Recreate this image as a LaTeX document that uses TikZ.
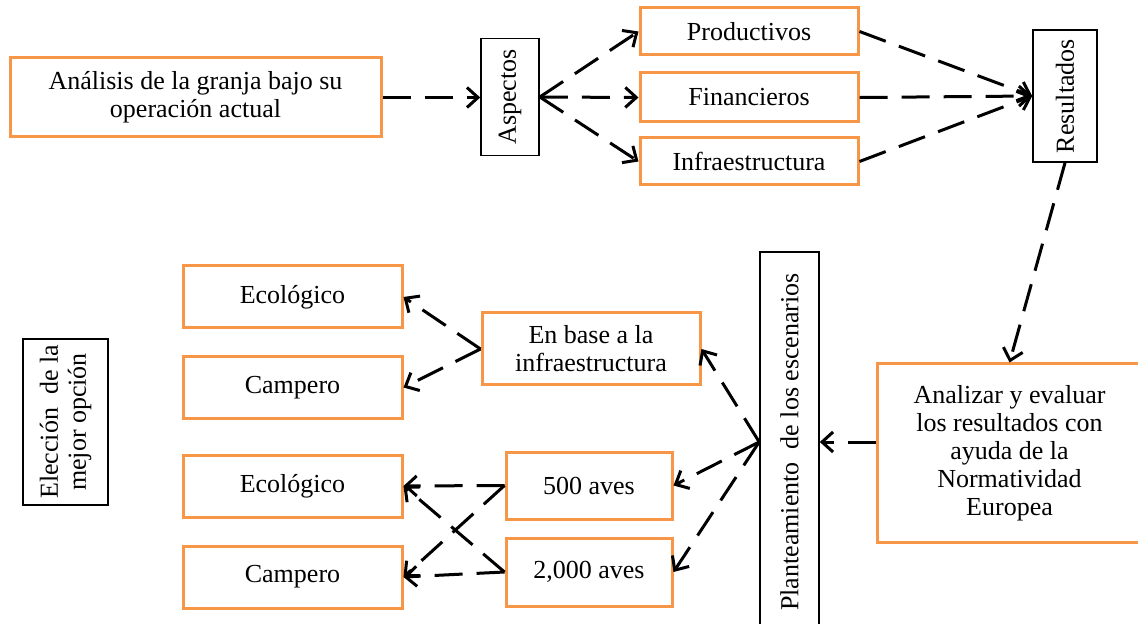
\documentclass[tikz,border=0pt]{standalone}
\usepackage{fontspec}
\setmainfont{Liberation Serif}
\usepackage{xcolor}
\usepackage{tikz}
\usetikzlibrary{arrows.meta}
\usetikzlibrary{positioning}
\definecolor{naranja}{RGB}{247,150,70}
\tikzset{
  caja/.style = {draw=naranja, line width=1.5pt, align=center, inner sep=0pt,
    text centered, font=\fontsize{13}{14}\selectfont},% caja naranja
  barra/.style = {draw=black, line width=0.8pt, rotate=90, align=center,
    inner sep=0pt, font=\fontsize{13}{14}\selectfont},% caja negra vertical
  flecha/.style = {line width=1.5pt, dash pattern=on 14pt off 7pt}% conector
}

\begin{document}
\begin{tikzpicture}[->,>={Straight Barb[length=5.5pt,width=10pt]},x=0.5pt,y=-0.5pt]
\useasboundingbox (0,0) rectangle (1138,624);

% fila de arriba
\node [caja, minimum width=185.5pt, minimum height=39.5pt] (ana) at (195.5,97.5)
  {Análisis de la granja bajo su\\operación actual};
\node [barra, minimum width=58.5pt, minimum height=29pt] (asp) at (510,97) {Aspectos};
\node [caja, minimum width=109pt, minimum height=23.5pt] (prod) at (749,31.5) {Productivos};
\node [caja, minimum width=109pt, minimum height=24.5pt] (fin) at (749,97.5) {Financieros};
\node [caja, minimum width=109pt, minimum height=23.5pt] (infra) at (749,161.5) {Infraestructura};
\node [barra, minimum width=66pt, minimum height=32pt] (res) at (1065,96) {Resultados};

% lado derecho
\node [caja, minimum width=132.5pt, minimum height=89pt] (anal) at (1009.5,453)
  {Analizar y evaluar\\los resultados con\\ayuda de la\\Normatividad\\Europea};
\node [barra, minimum width=190pt, minimum height=29.5pt] (plan) at (789.5,442)
  {Planteamiento\ \ de los escenarios};

% escenarios
\node [caja, minimum width=109pt, minimum height=36pt] (base) at (591,349)
  {En base a la\\infraestructura};
\node [caja, minimum width=83pt, minimum height=33.5pt] (a500) at (589,485.5) {500 aves};
\node [caja, minimum width=83pt, minimum height=34pt] (a2000) at (589,572) {2,000 aves};

\node [caja, minimum width=109.5pt, minimum height=31pt] (eco1) at (292.5,297) {Ecológico};
\node [caja, minimum width=109.5pt, minimum height=30.5pt] (cam1) at (292.5,387.5) {Campero};
\node [caja, minimum width=109.5pt, minimum height=31pt] (eco2) at (292.5,486) {Ecológico};
\node [caja, minimum width=109.5pt, minimum height=31pt] (cam2) at (292.5,577) {Campero};

\node [barra, minimum width=83pt, minimum height=42.5pt] (elec) at (65.5,422)
  {Elección\ \ de la\\mejor opción};

% conectores (barra: north = izquierda, south = derecha, west = abajo)
\draw [flecha] (ana.east) -- (ana.east -| asp.north);
\draw [flecha] (asp.south) -- (prod.west);
\draw [flecha] (asp.south) -- (fin.west);
\draw [flecha] (asp.south) -- (infra.west);
\draw [flecha] (prod.east) -- (res.north);
\draw [flecha] (fin.east) -- (res.north);
\draw [flecha] (infra.east) -- (res.north);
\draw [flecha] (res.west) -- (anal.north);
\draw [flecha] (plan.south -| anal.west) -- (plan.south);
\draw [flecha] (plan.north) -- (base.east);
\draw [flecha] (plan.north) -- (a500.east);
\draw [flecha] (plan.north) -- (a2000.east);
\draw [flecha] (base.west) -- (eco1.east);
\draw [flecha] (base.west) -- (cam1.east);
\draw [flecha] (a500.west) -- (eco2.east);
\draw [flecha] (a500.west) -- (cam2.east);
\draw [flecha] (a2000.west) -- (eco2.east);
\draw [flecha] (a2000.west) -- (cam2.east);
\end{tikzpicture}
\end{document}
